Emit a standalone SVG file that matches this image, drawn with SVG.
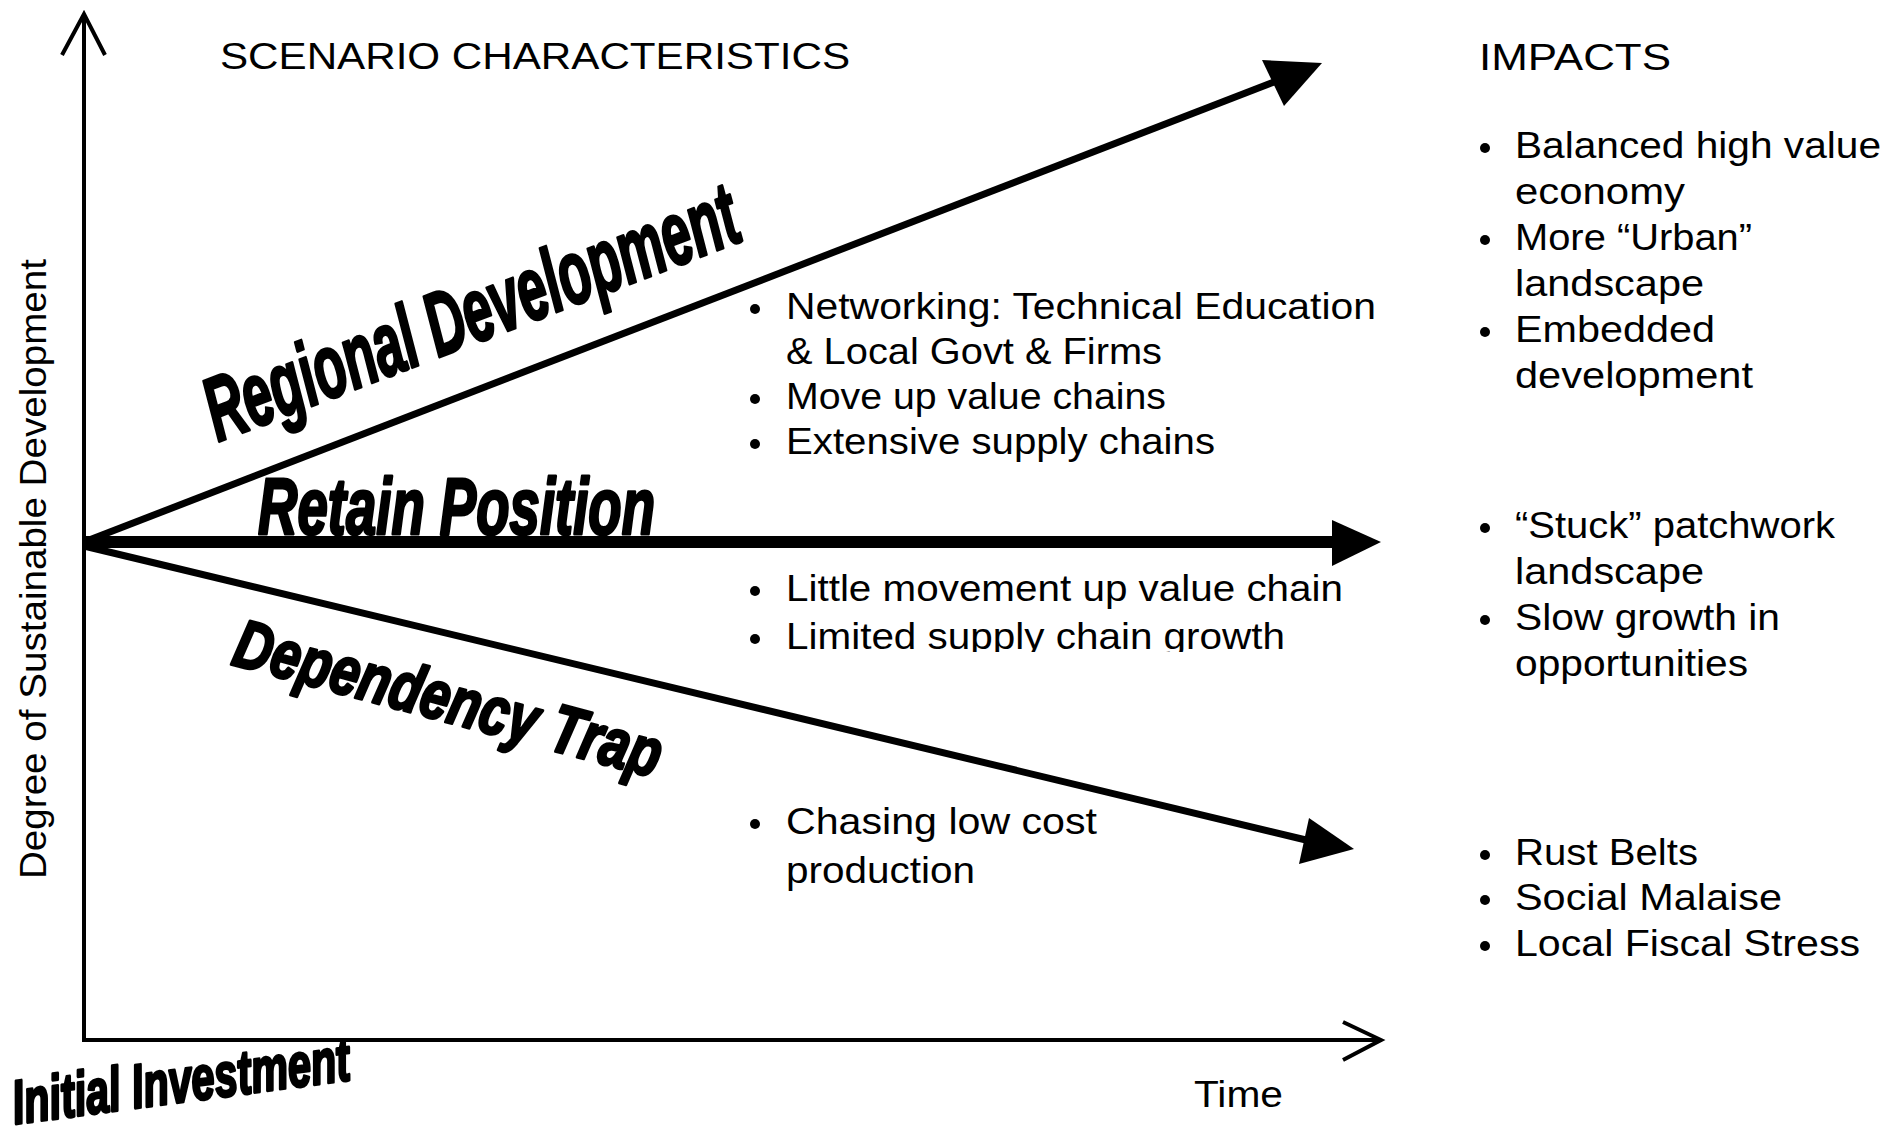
<svg xmlns="http://www.w3.org/2000/svg" width="1888" height="1136" viewBox="0 0 1888 1136">
<style>
.t{font-family:"Liberation Sans",Arial,sans-serif;font-size:37px;fill:#000}
.big{font-family:"Liberation Sans",Arial,sans-serif;font-weight:bold;font-style:italic;fill:#000;stroke:#000;stroke-width:3;stroke-linejoin:round}
.ax{stroke:#000;stroke-width:4;fill:none}
.ln{stroke:#000;fill:none;stroke-linecap:butt}
.hd{fill:#000;stroke:none}
.b{fill:#000}
</style>
<defs>
<clipPath id="clipLim"><rect x="700" y="560" width="700" height="92"/></clipPath>
</defs>
<rect width="1888" height="1136" fill="#fff"/>

<g id="connectors">
  <line id="y-axis" x1="84" y1="1042" x2="84" y2="15" class="ax"/>
  <polyline points="62,55 84,14 105,55" class="ax" stroke-width="3"/>
  <line id="x-axis" x1="82" y1="1040" x2="1380" y2="1040" class="ax"/>
  <polyline points="1343,1022 1381,1040 1343,1060" class="ax" stroke-width="3"/>
  <line id="arrow-regional" x1="84" y1="542" x2="1274" y2="82" class="ln" stroke-width="7"/>
  <polygon points="1262,60 1322,63 1284,106" class="hd"/>
  <line id="arrow-retain" x1="82" y1="542" x2="1336" y2="542" class="ln" stroke-width="12"/>
  <polygon points="1332,520 1381,542 1332,566" class="hd"/>
  <line id="arrow-dependency" x1="84" y1="546" x2="1306" y2="840" class="ln" stroke-width="7"/>
  <polygon points="1309,818 1354,849 1299,864" class="hd"/>
</g>

<g id="axis-labels">
  <text class="t" font-size="31" transform="translate(46,879) rotate(-90)" textLength="620" lengthAdjust="spacingAndGlyphs">Degree of Sustainable Development</text>
  <text class="t" x="1194" y="1107" font-size="36" textLength="89" lengthAdjust="spacingAndGlyphs">Time</text>
  <text class="big" font-style="normal" font-size="62" transform="translate(15,1124) rotate(-7.5)" textLength="340" lengthAdjust="spacingAndGlyphs">Initial Investment</text>
</g>

<g id="headings">
  <text class="t" x="220" y="69" font-size="36" textLength="630" lengthAdjust="spacingAndGlyphs">SCENARIO CHARACTERISTICS</text>
  <text class="t" x="1479" y="70" font-size="36" textLength="192" lengthAdjust="spacingAndGlyphs">IMPACTS</text>
</g>

<g id="label-regional">
  <text class="big" font-size="90" transform="translate(218,442) rotate(-21)" textLength="565" lengthAdjust="spacingAndGlyphs">Regional Development</text>
</g>
<g id="label-retain">
  <text class="big" x="258" y="534" font-size="80" textLength="397" lengthAdjust="spacingAndGlyphs">Retain Position</text>
</g>
<g id="label-dependency">
  <text class="big" font-size="68" transform="translate(230,664) rotate(15)" textLength="440" lengthAdjust="spacingAndGlyphs">Dependency Trap</text>
</g>

<g id="chars-regional">
  <circle class="b" cx="755" cy="309" r="5"/>
  <text class="t" x="786" y="319" textLength="590" lengthAdjust="spacingAndGlyphs">Networking: Technical Education</text>
  <text class="t" x="786" y="364" textLength="376" lengthAdjust="spacingAndGlyphs">&amp; Local Govt &amp; Firms</text>
  <circle class="b" cx="755" cy="399" r="5"/>
  <text class="t" x="786" y="409" textLength="380" lengthAdjust="spacingAndGlyphs">Move up value chains</text>
  <circle class="b" cx="755" cy="444" r="5"/>
  <text class="t" x="786" y="454" textLength="429" lengthAdjust="spacingAndGlyphs">Extensive supply chains</text>
</g>

<g id="chars-retain">
  <circle class="b" cx="755" cy="591" r="5"/>
  <text class="t" x="786" y="601" textLength="557" lengthAdjust="spacingAndGlyphs">Little movement up value chain</text>
  <circle class="b" cx="755" cy="639" r="5"/>
  <text class="t" x="786" y="649" textLength="499" lengthAdjust="spacingAndGlyphs" clip-path="url(#clipLim)">Limited supply chain growth</text>
</g>

<g id="chars-dependency">
  <circle class="b" cx="755" cy="824" r="5"/>
  <text class="t" x="786" y="834" textLength="311" lengthAdjust="spacingAndGlyphs">Chasing low cost</text>
  <text class="t" x="786" y="883" textLength="189" lengthAdjust="spacingAndGlyphs">production</text>
</g>

<g id="impacts-regional">
  <circle class="b" cx="1485" cy="148" r="5"/>
  <text class="t" x="1515" y="158" textLength="366" lengthAdjust="spacingAndGlyphs">Balanced high value</text>
  <text class="t" x="1515" y="204" textLength="170" lengthAdjust="spacingAndGlyphs">economy</text>
  <circle class="b" cx="1485" cy="240" r="5"/>
  <text class="t" x="1515" y="250" textLength="237" lengthAdjust="spacingAndGlyphs">More “Urban”</text>
  <text class="t" x="1515" y="296" textLength="189" lengthAdjust="spacingAndGlyphs">landscape</text>
  <circle class="b" cx="1485" cy="332" r="5"/>
  <text class="t" x="1515" y="342" textLength="200" lengthAdjust="spacingAndGlyphs">Embedded</text>
  <text class="t" x="1515" y="388" textLength="238" lengthAdjust="spacingAndGlyphs">development</text>
</g>

<g id="impacts-retain">
  <circle class="b" cx="1485" cy="528" r="5"/>
  <text class="t" x="1515" y="538" textLength="320" lengthAdjust="spacingAndGlyphs">“Stuck” patchwork</text>
  <text class="t" x="1515" y="584" textLength="189" lengthAdjust="spacingAndGlyphs">landscape</text>
  <circle class="b" cx="1485" cy="620" r="5"/>
  <text class="t" x="1515" y="630" textLength="265" lengthAdjust="spacingAndGlyphs">Slow growth in</text>
  <text class="t" x="1515" y="676" textLength="233" lengthAdjust="spacingAndGlyphs">opportunities</text>
</g>

<g id="impacts-dependency">
  <circle class="b" cx="1485" cy="855" r="5"/>
  <text class="t" x="1515" y="865" textLength="183" lengthAdjust="spacingAndGlyphs">Rust Belts</text>
  <circle class="b" cx="1485" cy="900" r="5"/>
  <text class="t" x="1515" y="910" textLength="267" lengthAdjust="spacingAndGlyphs">Social Malaise</text>
  <circle class="b" cx="1485" cy="946" r="5"/>
  <text class="t" x="1515" y="956" textLength="345" lengthAdjust="spacingAndGlyphs">Local Fiscal Stress</text>
</g>
</svg>
